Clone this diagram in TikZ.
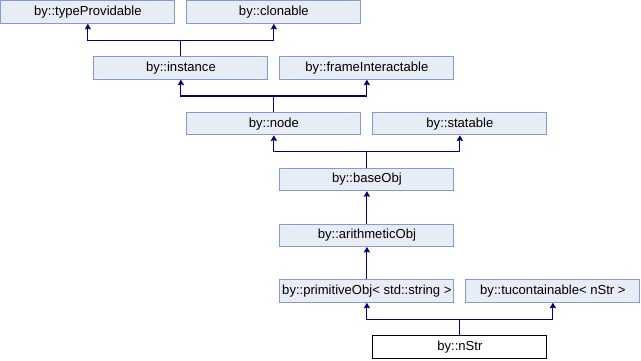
\documentclass[tikz,border=0pt]{standalone}
\usepackage{fontspec}
\setmainfont{Liberation Sans}
\usepackage{xcolor}
\usetikzlibrary{arrows.meta,positioning}
\definecolor{DoxyFill}{HTML}{E8ECF5}
\definecolor{DoxyBorder}{HTML}{849BCD}
\definecolor{DoxyArrow}{HTML}{000080}
\definecolor{DoxyBlack}{HTML}{000000}
\definecolor{DoxyWhite}{HTML}{FFFFFF}
\tikzset{
    % Base class boxes
    class box/.style={
        rectangle,
        draw=DoxyBorder,
        line width=0.7pt,
        fill=DoxyFill,
        text=DoxyBlack,
        minimum width=4.35cm,
        minimum height=0.56cm,
        inner sep=0pt,
        align=center,
        font=\fontsize{9.3}{10}\selectfont
    },
    class box current/.style={
        class box,
        draw=DoxyBlack,
        fill=DoxyWhite
    },
    half step/.style={
        xshift=2.325cm
    },
    arrow inherit/.style={
        -{Stealth[length=4pt,width=4.5pt,inset=0.6pt]},
        line width=0.8pt,
        color=DoxyArrow
    }
}

\begin{document}
\begin{tikzpicture}[node distance=0.81cm and 0.275cm]
        \useasboundingbox (0,0) rectangle (16.025,-9);

        % Top layer
        \node[class box, anchor=north west] (typeprov) at (0.01,-0.01) {by::typeProvidable};
        \node[class box, right=of typeprov] (clonable) {by::clonable};

        % Instance layer
        \node[class box, below=of typeprov, half step] (instance) {by::instance};
        \node[class box, right=of instance] (frameint) {by::frameInteractable};

        % Node layer
        \node[class box, below=of instance, half step] (node) {by::node};
        \node[class box, right=of node] (statable) {by::statable};

        % Object chain
        \node[class box, below=of node, half step] (baseobj) {by::baseObj};
        \node[class box, below=of baseobj] (arithobj) {by::arithmeticObj};
        \node[class box, below=of arithobj] (primobj) {by::primitiveObj< std::string >};
        \node[class box, right=of primobj] (tucont) {by::tucontainable< nStr >};

        % Current class
        \node[class box current, below=of primobj, half step] (nstr) {by::nStr};

        % Arrows
        \draw[arrow inherit] (instance.north) -- ++(0,0.4) -| (typeprov.south);
        \draw[arrow inherit] (instance.north) -- ++(0,0.4) -| (clonable.south);
        \draw[arrow inherit] (node.north) -- ++(0,0.4) -| (instance.south);
        \draw[arrow inherit] (node.north) -- ++(0,0.4) -| (frameint.south);
        \draw[arrow inherit] (baseobj.north) -- ++(0,0.4) -| (node.south);
        \draw[arrow inherit] (baseobj.north) -- ++(0,0.4) -| (statable.south);
        \draw[arrow inherit] (arithobj) -- (baseobj);
        \draw[arrow inherit] (primobj) -- (arithobj);
        \draw[arrow inherit] (nstr.north) -- ++(0,0.4) -| (primobj.south);
        \draw[arrow inherit] (nstr.north) -- ++(0,0.4) -| (tucont.south);
    \end{tikzpicture}
\end{document}
